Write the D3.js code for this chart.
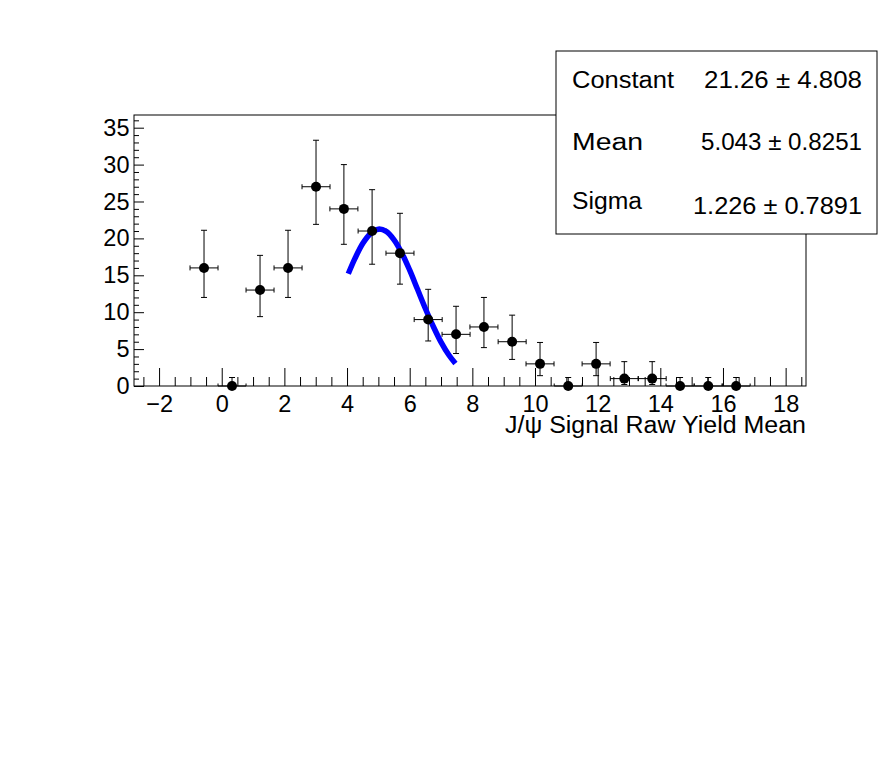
<!DOCTYPE html>
<html>
<head>
<meta charset="utf-8">
<script src="https://cdn.jsdelivr.net/npm/d3@7"></script>
<style>
  html, body { margin: 0; padding: 0; background: #fff; }
  svg { display: block; font-family: "Liberation Sans", Arial, sans-serif; }
</style>
</head>
<body>
<svg width="896" height="772"></svg>
<script>
// histogram bins (centres), contents and asymmetric (Poisson) errors
var binCenters = [-0.565, 0.329, 1.223, 2.117, 3.01, 3.90, 4.80, 5.69, 6.59, 7.48,
                  8.37, 9.27, 10.16, 11.06, 11.95, 12.85, 13.74, 14.63, 15.53, 16.42];
var counts     = [16, 0, 13, 16, 27, 24, 21, 18, 9, 7, 8, 6, 3, 0, 3, 1, 1, 0, 0, 0];
var errLow     = [4.0, 0, 3.6, 4.0, 5.1, 4.8, 4.5, 4.2, 2.9, 2.6, 2.8, 2.4, 1.6, 0, 1.6, 0.8, 0.8, 0, 0, 0];
var errHigh    = [5.1, 1.15, 4.7, 5.1, 6.3, 6.0, 5.6, 5.4, 4.1, 3.8, 4.0, 3.6, 2.9, 1.15, 2.9, 2.3, 2.3, 1.15, 1.15, 1.15];
var binHalfWidth = 0.447;

// gaussian fit curve
var fitX = [4.04, 4.25, 4.5, 4.75, 5.0, 5.25, 5.5, 5.75, 6.0, 6.25, 6.5, 6.75, 7.0, 7.25, 7.46];
var fitY = [15.2, 17.25, 19.3, 20.65, 21.25, 20.95, 19.8, 18.0, 15.7, 13.1, 10.5, 8.1, 5.95, 4.2, 3.05];

var xDomain = [-2.8, 18.65];
var yDomain = [0, 36.72];
var xMajor = [-2, 0, 2, 4, 6, 8, 10, 12, 14, 16, 18];
var yMajor = [0, 5, 10, 15, 20, 25, 30, 35];

var statNames  = ["Constant", "Mean", "Sigma"];
var statValues = ["21.26 \u00b1 4.808", "5.043 \u00b1 0.8251", "1.226 \u00b1 0.7891"];
var xTitle = "J/\u03c8 Signal Raw Yield Mean";

function main() {
    var svg = d3.select("svg");
    var frame = {left: 134, top: 115, right: 806, bottom: 386};
    var width = frame.right - frame.left,
        height = frame.bottom - frame.top;

    var xScale = d3.scaleLinear().domain(xDomain).range([0, width]),
        yScale = d3.scaleLinear().domain(yDomain).range([height, 0]);

    var g = svg.append("g")
        .attr("transform", "translate(" + frame.left + "," + frame.top + ")");

    // minor ticks
    var xMinor = d3.range(-2.5, 18.6, 0.5).filter(function(d) { return Math.abs(d % 2) > 1e-6; });
    var yMinor = d3.range(0, 36.5, 1).filter(function(d) { return d % 5 !== 0; });

    g.append("g")
        .attr("transform", "translate(0," + height + ")")
        .call(d3.axisBottom(xScale).tickValues(xMinor).tickSize(-9).tickFormat(""))
        .call(function(a) { a.select(".domain").remove(); });

    g.append("g")
        .call(d3.axisLeft(yScale).tickValues(yMinor).tickSize(-5).tickFormat(""))
        .call(function(a) { a.select(".domain").remove(); });

    // major ticks + labels
    var xAxis = g.append("g")
        .attr("transform", "translate(0," + height + ")")
        .call(d3.axisBottom(xScale).tickValues(xMajor).tickSize(-18).tickPadding(9));
    xAxis.select(".domain").remove();
    xAxis.selectAll("text").attr("font-size", "23.5px").attr("fill", "#000")
        .style("font-family", "'Liberation Sans', Arial, sans-serif");

    var yAxis = g.append("g")
        .call(d3.axisLeft(yScale).tickValues(yMajor).tickSize(-10).tickPadding(4.5));
    yAxis.select(".domain").remove();
    yAxis.selectAll("text").attr("font-size", "23.5px").attr("fill", "#000")
        .style("font-family", "'Liberation Sans', Arial, sans-serif");

    g.selectAll(".tick line").attr("stroke", "#000");

    // frame
    g.append("rect")
        .attr("width", width)
        .attr("height", height)
        .attr("fill", "none")
        .attr("stroke", "#000")
        .attr("stroke-width", 1);

    // axis title
    g.append("text")
        .attr("x", width)
        .attr("y", height + 47)
        .attr("text-anchor", "end")
        .attr("font-size", "23.5px")
        .attr("textLength", 301)
        .attr("lengthAdjust", "spacingAndGlyphs")
        .text(xTitle);

    var pts = binCenters.map(function(x, i) {
        return {x: x, y: counts[i], lo: errLow[i], hi: errHigh[i]};
    });

    // error bars
    var eb = g.selectAll(".err").data(pts).enter().append("g")
        .attr("class", "err")
        .attr("stroke", "#000")
        .attr("stroke-width", 1);

    eb.append("line")
        .attr("x1", function(d) { return xScale(d.x - binHalfWidth); })
        .attr("x2", function(d) { return xScale(d.x + binHalfWidth); })
        .attr("y1", function(d) { return yScale(d.y); })
        .attr("y2", function(d) { return yScale(d.y); });
    eb.append("line")
        .attr("x1", function(d) { return xScale(d.x); })
        .attr("x2", function(d) { return xScale(d.x); })
        .attr("y1", function(d) { return yScale(d.y - d.lo); })
        .attr("y2", function(d) { return yScale(d.y + d.hi); });
    // caps
    [-1, 1].forEach(function(s) {
        eb.append("line")
            .attr("x1", function(d) { return xScale(d.x + s * binHalfWidth); })
            .attr("x2", function(d) { return xScale(d.x + s * binHalfWidth); })
            .attr("y1", function(d) { return yScale(d.y) - 2.5; })
            .attr("y2", function(d) { return Math.min(yScale(d.y) + 2.5, height); });
    });
    eb.append("line")
        .attr("x1", function(d) { return xScale(d.x) - 3; })
        .attr("x2", function(d) { return xScale(d.x) + 3; })
        .attr("y1", function(d) { return yScale(d.y + d.hi); })
        .attr("y2", function(d) { return yScale(d.y + d.hi); });
    eb.filter(function(d) { return d.lo > 0; }).append("line")
        .attr("x1", function(d) { return xScale(d.x) - 3; })
        .attr("x2", function(d) { return xScale(d.x) + 3; })
        .attr("y1", function(d) { return yScale(d.y - d.lo); })
        .attr("y2", function(d) { return yScale(d.y - d.lo); });

    // fit curve
    var line = d3.line()
        .x(function(d) { return xScale(d[0]); })
        .y(function(d) { return yScale(d[1]); })
        .curve(d3.curveCatmullRom);
    g.append("path")
        .datum(fitX.map(function(x, i) { return [x, fitY[i]]; }))
        .attr("d", line)
        .attr("fill", "none")
        .attr("stroke", "#0000ff")
        .attr("stroke-width", 5.5);

    // markers
    g.selectAll(".pt").data(pts).enter().append("circle")
        .attr("class", "pt")
        .attr("cx", function(d) { return xScale(d.x); })
        .attr("cy", function(d) { return yScale(d.y); })
        .attr("r", 5)
        .attr("fill", "#000");

    // stats box
    var box = svg.append("g").attr("transform", "translate(556,51)");
    box.append("rect")
        .attr("width", 321)
        .attr("height", 183)
        .attr("fill", "#fff")
        .attr("stroke", "#000");
    var rowBase = [37, 99, 158];
    var valBase = [37, 99, 163];
    var nameLen = [102, 71, 70];
    var valLen = [158, 161, 169];
    box.selectAll(".sname").data(statNames).enter().append("text")
        .attr("x", 16)
        .attr("y", function(d, i) { return rowBase[i]; })
        .attr("font-size", "23.5px")
        .attr("textLength", function(d, i) { return nameLen[i]; })
        .attr("lengthAdjust", "spacingAndGlyphs")
        .text(function(d) { return d; });
    box.selectAll(".sval").data(statValues).enter().append("text")
        .attr("x", 306)
        .attr("y", function(d, i) { return valBase[i]; })
        .attr("text-anchor", "end")
        .attr("font-size", "23.5px")
        .attr("textLength", function(d, i) { return valLen[i]; })
        .attr("lengthAdjust", "spacingAndGlyphs")
        .text(function(d) { return d; });
}
main();
</script>
</body>
</html>
